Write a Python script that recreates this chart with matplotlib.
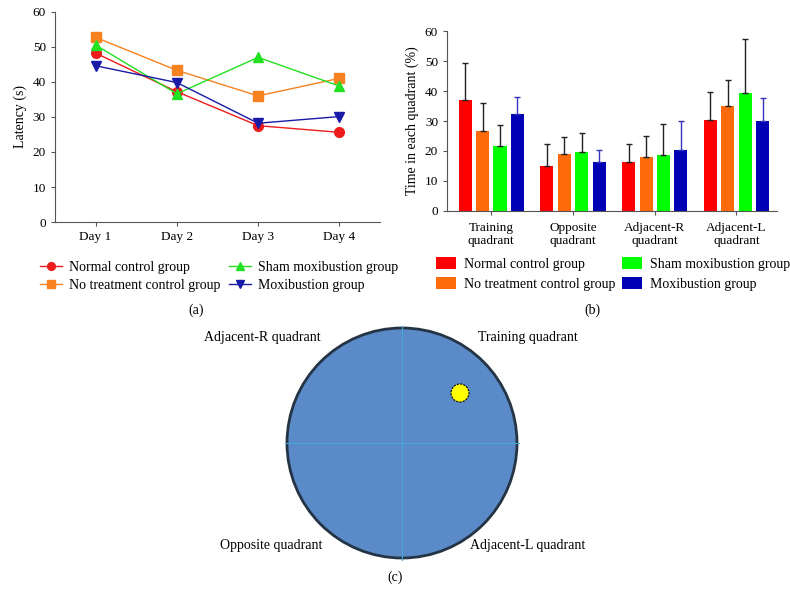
import numpy as np
import matplotlib
matplotlib.use("Agg")
import matplotlib.pyplot as plt
from matplotlib.patches import Circle

plt.rcParams['font.family'] = ['Liberation Serif', 'DejaVu Serif']
plt.rcParams['font.size'] = 10

# %% data
days = ["Day 1", "Day 2", "Day 3", "Day 4"]
latency_normal = [48.2, 37.2, 27.5, 25.6]
latency_notreat = [52.7, 43.3, 36.0, 41.0]
latency_sham = [50.5, 36.6, 47.0, 38.8]
latency_moxi = [44.6, 39.8, 28.2, 30.1]

quadrants = ["Training\nquadrant", "Opposite\nquadrant", "Adjacent-R\nquadrant", "Adjacent-L\nquadrant"]
time_normal = [37.0, 15.1, 16.4, 30.4]
time_notreat = [26.8, 19.1, 18.1, 34.9]
time_sham = [21.7, 19.5, 18.8, 39.3]
time_moxi = [32.3, 16.3, 20.2, 30.1]
err_normal = [12.3, 7.1, 5.8, 9.3]
err_notreat = [9.2, 5.7, 6.9, 8.9]
err_sham = [6.9, 6.6, 10.1, 18.0]
err_moxi = [5.6, 4.1, 9.9, 7.5]

groups = ["Normal control group", "No treatment control group",
          "Sham moxibustion group", "Moxibustion group"]
line_cols = ["#ee1c1c", "#f7821f", "#22e022", "#1a1aa8"]
bar_cols = ["#ff0000", "#ff6a0a", "#00ff00", "#0000b4"]
err_cols = ["#222222", "#222222", "#222222", "#3333bb"]

fig = plt.figure(figsize=(7.9, 5.89), dpi=100)

# %% (a) latency lines
ax = fig.add_axes([0.0696, 0.623, 0.4114, 0.357])
x = np.arange(1, 5)
series = [latency_normal, latency_notreat, latency_sham, latency_moxi]
marks = ["o", "s", "^", "v"]
for s, c, m, lab in zip(series, line_cols, marks, groups):
    ax.plot(x, s, color=c, marker=m, markersize=7, lw=1.0, label=lab)
ax.set_xlim(0.5, 4.5)
ax.set_ylim(0, 60)
ax.set_yticks(range(0, 61, 10))
ax.set_xticks(x)
ax.set_xticklabels(days)
ax.set_ylabel("Latency (s)")
for sp in ["top", "right"]:
    ax.spines[sp].set_visible(False)
for sp in ["left", "bottom"]:
    ax.spines[sp].set_color("#555555")
ax.tick_params(direction="out", length=3, color="#555555", labelsize=9.5)
hs, ls = ax.get_legend_handles_labels()
fig.legend(hs, ls, loc="center", bbox_to_anchor=(0.277, 0.531), ncol=2,
           frameon=False, fontsize=10, handlelength=1.6, handletextpad=0.5,
           columnspacing=0.6, labelspacing=0.35, markerscale=0.8)
fig.text(0.248, 0.473, "(a)", ha="center", va="center")

# %% (b) time in quadrant bars
bx = fig.add_axes([0.566, 0.642, 0.418, 0.305])
g = np.arange(4)
vals = [time_normal, time_notreat, time_sham, time_moxi]
errs = [err_normal, err_notreat, err_sham, err_moxi]
step = 0.213
for i, (v, e, c, ec, lab) in enumerate(zip(vals, errs, bar_cols, err_cols, groups)):
    pos = g + (i - 1.5) * step
    bx.bar(pos, v, width=0.16, color=c, label=lab)
    bx.errorbar(pos, v, yerr=[np.zeros(4), e], fmt="none", ecolor=ec,
                elinewidth=1.0, capsize=2.3, capthick=1.0)
bx.set_xlim(-0.54, 3.5)
bx.set_ylim(0, 60)
bx.set_yticks(range(0, 61, 10))
bx.set_xticks(g)
bx.set_xticklabels(quadrants, linespacing=1.15)
bx.set_ylabel("Time in each quadrant (%)")
for sp in ["top", "right"]:
    bx.spines[sp].set_visible(False)
for sp in ["left", "bottom"]:
    bx.spines[sp].set_color("#555555")
bx.tick_params(direction="out", length=3, color="#555555", labelsize=9.5)
bx.tick_params(axis="x", pad=5)
hs, ls = bx.get_legend_handles_labels()
fig.legend(hs, ls, loc="center", bbox_to_anchor=(0.776, 0.535), ncol=2,
           frameon=False, fontsize=10, handlelength=1.45, handleheight=1.0,
           handletextpad=0.6, columnspacing=0.45, labelspacing=0.45)
fig.text(0.750, 0.473, "(b)", ha="center", va="center")

# %% (c) pool diagram
cx = fig.add_axes([0, 0, 1, 1])
cx.set_xlim(0, 790)
cx.set_ylim(589, 0)
cx.axis("off")
pool_x, pool_y, pool_r = 402, 443, 115
cx.add_patch(Circle((pool_x, pool_y), pool_r, facecolor="#5a8ac8",
                    edgecolor="#243444", lw=2.0))
cx.plot([pool_x - pool_r - 2, pool_x + pool_r + 2], [pool_y, pool_y],
        color="#46a6d8", lw=0.8)
cx.plot([pool_x, pool_x], [pool_y - pool_r - 2, pool_y + pool_r + 2],
        color="#46a6d8", lw=0.8)
cx.add_patch(Circle((460, 393), 9, facecolor="#ffff00", edgecolor="black",
                    lw=0.8, ls=(0, (2, 1))))
cx.text(262, 337, "Adjacent-R quadrant", ha="center", va="center")
cx.text(528, 337, "Training quadrant", ha="center", va="center")
cx.text(271, 545, "Opposite quadrant", ha="center", va="center")
cx.text(528, 545, "Adjacent-L quadrant", ha="center", va="center")
cx.text(395, 577, "(c)", ha="center", va="center")

fig.savefig("out.png", dpi=100)
